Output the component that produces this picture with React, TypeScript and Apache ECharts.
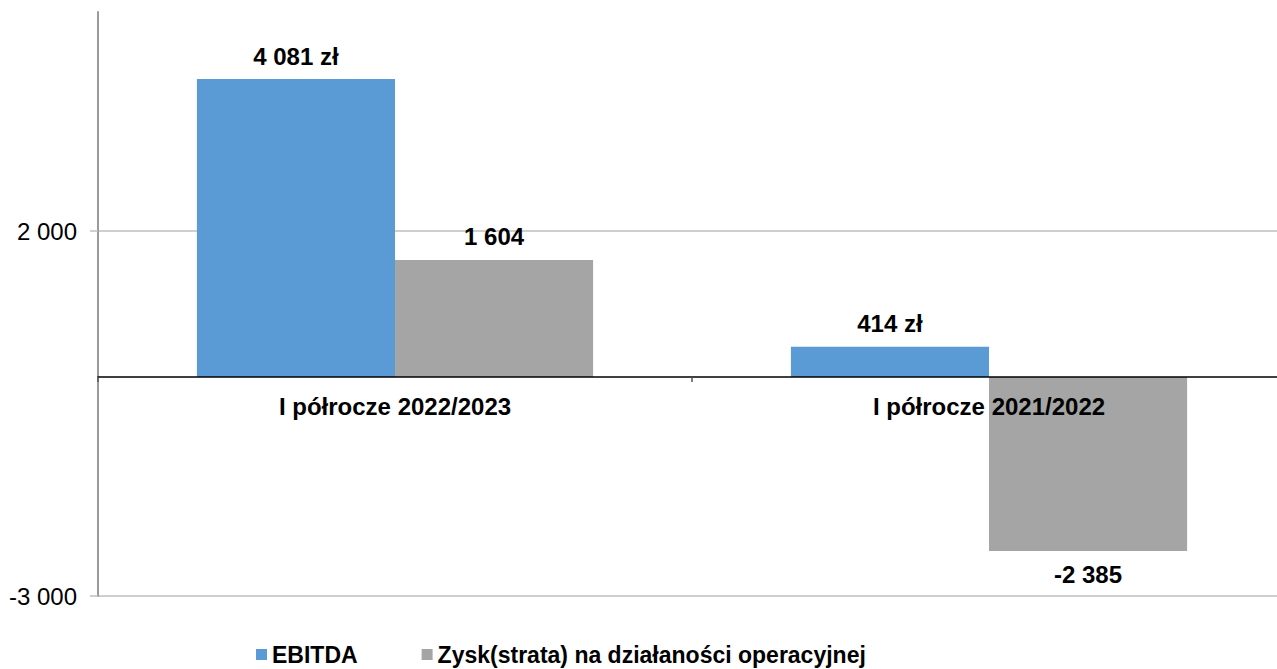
import React, { useEffect, useRef } from "react";
import * as echarts from "echarts";

const categories = ["I półrocze 2022/2023", "I półrocze 2021/2022"];
const seriesNames = ["EBITDA", "Zysk(strata) na działaności operacyjnej"];
const ebitdaValues = [4081, 414];
const ebitdaLabels = ["4 081 zł", "414 zł"];
const zyskValues = [1604, -2385];
const zyskLabels = ["1 604", "-2 385"];
const yTickValues = [-3000, 2000];
const yMin = -3000;
const yMax = 5000;

const FONT = "'Liberation Sans', Arial, sans-serif";
const FS = 24;

const GRID_TOP = 12;
const GRID_BOTTOM = 73;
const CHART_H = 669;

function fmt(v: number): string {
  const s = Math.abs(v).toString().replace(/\B(?=(\d{3})+(?!\d))/g, " ");
  return (v < 0 ? "-" : "") + s;
}

function makeData(values: number[], labels: string[]) {
  return values.map((v, i) => ({
    value: v,
    label: {
      show: true,
      position: v < 0 ? "bottom" : "top",
      distance: 11,
      formatter: () => labels[i],
    },
  }));
}

export default function App() {
  const ref = useRef<HTMLDivElement>(null);
  useEffect(() => {
    if (!ref.current) return;
    const chart = echarts.init(ref.current, null, { renderer: "svg" });
    const plotH = CHART_H - GRID_TOP - GRID_BOTTOM;
    const zeroOffset = -((0 - yMin) / (yMax - yMin)) * plotH;
    chart.setOption({
      animation: false,
      textStyle: { fontFamily: FONT },
      grid: { left: 98, right: 0, top: GRID_TOP, bottom: GRID_BOTTOM, containLabel: false },
      legend: {
        left: 256,
        top: 643,
        padding: 0,
        itemWidth: 11,
        itemHeight: 11,
        itemGap: 64,
        icon: "rect",
        textStyle: { fontSize: 23, fontWeight: "bold", color: "#000", fontFamily: FONT },
        data: seriesNames,
      },
      xAxis: {
        type: "category",
        data: categories,
        z: 5,
        offset: zeroOffset,
        axisLine: { onZero: false, lineStyle: { color: "#000", width: 1.5 } },
        axisTick: { show: true, length: 5, lineStyle: { color: "#555", width: 1.5 } },
        axisLabel: {
          fontSize: FS,
          fontWeight: "bold",
          color: "#000",
          margin: 17,
          fontFamily: FONT,
        },
        splitLine: { show: false },
      },
      yAxis: {
        type: "value",
        min: yMin,
        max: yMax,
        interval: 5000,
        axisLine: { show: true, lineStyle: { color: "#9a9a9a", width: 2 } },
        axisTick: {
          show: true,
          length: 8,
          customValues: yTickValues,
          lineStyle: { color: "#bfbfbf", width: 1.5 },
        },
        axisLabel: {
          fontSize: FS,
          color: "#000",
          margin: 21,
          fontFamily: FONT,
          customValues: yTickValues,
          formatter: (v: number) => fmt(v),
        },
        splitLine: { show: true, lineStyle: { color: "#bfbfbf", width: 1.5 } },
      },
      series: [
        {
          name: seriesNames[0],
          type: "bar",
          barGap: "0%",
          barCategoryGap: "33.3%",
          itemStyle: { color: "#5B9BD5" },
          label: { fontSize: FS, fontWeight: "bold", color: "#000", fontFamily: FONT },
          data: makeData(ebitdaValues, ebitdaLabels),
        },
        {
          name: seriesNames[1],
          type: "bar",
          barGap: "0%",
          barCategoryGap: "33.3%",
          itemStyle: { color: "#A5A5A5" },
          label: { fontSize: FS, fontWeight: "bold", color: "#000", fontFamily: FONT },
          data: makeData(zyskValues, zyskLabels),
        },
      ],
    });
    return () => chart.dispose();
  }, []);
  return (
    <div
      style={{
        position: "fixed",
        left: 0,
        top: 0,
        width: 1277,
        height: 669,
        overflow: "hidden",
        background: "#fff",
      }}
    >
      <div ref={ref} style={{ width: 1286, height: 669 }} />
    </div>
  );
}
